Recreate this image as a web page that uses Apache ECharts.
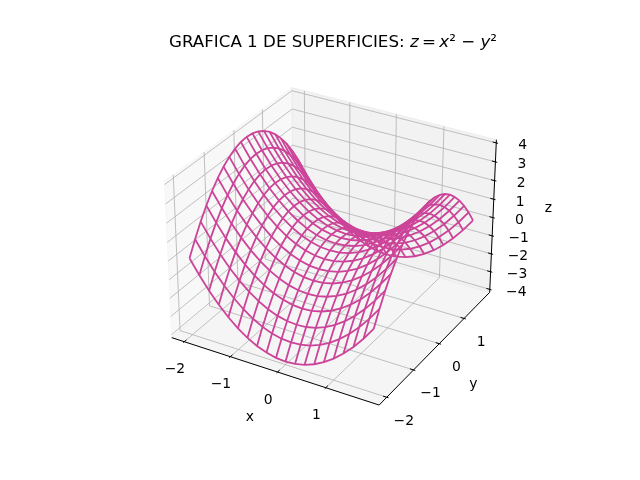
<!DOCTYPE html>
<html>
<head>
<meta charset="utf-8">
<script src="https://cdn.jsdelivr.net/npm/echarts@6/dist/echarts.min.js"></script>
<style>
  html, body { margin: 0; padding: 0; background: #fff; }
  #chart { width: 640px; height: 480px; }
</style>
</head>
<body>
<div id="chart"></div>
<script>
// grid of the surface (x along each row, one row per y value)
const xValues = [-2, -1.8, -1.6, -1.4, -1.2, -1, -0.8, -0.6, -0.4, -0.2, 0, 0.2, 0.4, 0.6, 0.8, 1, 1.2, 1.4, 1.6, 1.8];
const yValues = [-2, -1.8, -1.6, -1.4, -1.2, -1, -0.8, -0.6, -0.4, -0.2, 0, 0.2, 0.4, 0.6, 0.8, 1, 1.2, 1.4, 1.6, 1.8];
// zRows[j][i] = height at (xValues[i], yValues[j])
const zRows = [
  [0, -0.76, -1.44, -2.04, -2.56, -3, -3.36, -3.64, -3.84, -3.96, -4, -3.96, -3.84, -3.64, -3.36, -3, -2.56, -2.04, -1.44, -0.76],
  [0.76, 0, -0.68, -1.28, -1.8, -2.24, -2.6, -2.88, -3.08, -3.2, -3.24, -3.2, -3.08, -2.88, -2.6, -2.24, -1.8, -1.28, -0.68, 0],
  [1.44, 0.68, 0, -0.6, -1.12, -1.56, -1.92, -2.2, -2.4, -2.52, -2.56, -2.52, -2.4, -2.2, -1.92, -1.56, -1.12, -0.6, 0, 0.68],
  [2.04, 1.28, 0.6, 0, -0.52, -0.96, -1.32, -1.6, -1.8, -1.92, -1.96, -1.92, -1.8, -1.6, -1.32, -0.96, -0.52, 0, 0.6, 1.28],
  [2.56, 1.8, 1.12, 0.52, 0, -0.44, -0.8, -1.08, -1.28, -1.4, -1.44, -1.4, -1.28, -1.08, -0.8, -0.44, 0, 0.52, 1.12, 1.8],
  [3, 2.24, 1.56, 0.96, 0.44, 0, -0.36, -0.64, -0.84, -0.96, -1, -0.96, -0.84, -0.64, -0.36, 0, 0.44, 0.96, 1.56, 2.24],
  [3.36, 2.6, 1.92, 1.32, 0.8, 0.36, 0, -0.28, -0.48, -0.6, -0.64, -0.6, -0.48, -0.28, 0, 0.36, 0.8, 1.32, 1.92, 2.6],
  [3.64, 2.88, 2.2, 1.6, 1.08, 0.64, 0.28, 0, -0.2, -0.32, -0.36, -0.32, -0.2, 0, 0.28, 0.64, 1.08, 1.6, 2.2, 2.88],
  [3.84, 3.08, 2.4, 1.8, 1.28, 0.84, 0.48, 0.2, 0, -0.12, -0.16, -0.12, 0, 0.2, 0.48, 0.84, 1.28, 1.8, 2.4, 3.08],
  [3.96, 3.2, 2.52, 1.92, 1.4, 0.96, 0.6, 0.32, 0.12, 0, -0.04, 0, 0.12, 0.32, 0.6, 0.96, 1.4, 1.92, 2.52, 3.2],
  [4, 3.24, 2.56, 1.96, 1.44, 1, 0.64, 0.36, 0.16, 0.04, 0, 0.04, 0.16, 0.36, 0.64, 1, 1.44, 1.96, 2.56, 3.24],
  [3.96, 3.2, 2.52, 1.92, 1.4, 0.96, 0.6, 0.32, 0.12, 0, -0.04, 0, 0.12, 0.32, 0.6, 0.96, 1.4, 1.92, 2.52, 3.2],
  [3.84, 3.08, 2.4, 1.8, 1.28, 0.84, 0.48, 0.2, 0, -0.12, -0.16, -0.12, 0, 0.2, 0.48, 0.84, 1.28, 1.8, 2.4, 3.08],
  [3.64, 2.88, 2.2, 1.6, 1.08, 0.64, 0.28, 0, -0.2, -0.32, -0.36, -0.32, -0.2, 0, 0.28, 0.64, 1.08, 1.6, 2.2, 2.88],
  [3.36, 2.6, 1.92, 1.32, 0.8, 0.36, 0, -0.28, -0.48, -0.6, -0.64, -0.6, -0.48, -0.28, 0, 0.36, 0.8, 1.32, 1.92, 2.6],
  [3, 2.24, 1.56, 0.96, 0.44, 0, -0.36, -0.64, -0.84, -0.96, -1, -0.96, -0.84, -0.64, -0.36, 0, 0.44, 0.96, 1.56, 2.24],
  [2.56, 1.8, 1.12, 0.52, 0, -0.44, -0.8, -1.08, -1.28, -1.4, -1.44, -1.4, -1.28, -1.08, -0.8, -0.44, 0, 0.52, 1.12, 1.8],
  [2.04, 1.28, 0.6, 0, -0.52, -0.96, -1.32, -1.6, -1.8, -1.92, -1.96, -1.92, -1.8, -1.6, -1.32, -0.96, -0.52, 0, 0.6, 1.28],
  [1.44, 0.68, 0, -0.6, -1.12, -1.56, -1.92, -2.2, -2.4, -2.52, -2.56, -2.52, -2.4, -2.2, -1.92, -1.56, -1.12, -0.6, 0, 0.68],
  [0.76, 0, -0.68, -1.28, -1.8, -2.24, -2.6, -2.88, -3.08, -3.2, -3.24, -3.2, -3.08, -2.88, -2.6, -2.24, -1.8, -1.28, -0.68, 0]
];

const xTicks = [-2, -1, 0, 1];
const yTicks = [-2, -1, 0, 1];
const zTicks = [-4, -3, -2, -1, 0, 1, 2, 3, 4];
const xLim = [-2.19, 1.99];
const yLim = [-2.19, 1.99];
const zLim = [-4, 4];

const WIRE_COLOR = "#cc4499";
const FONT = "DejaVu Sans";

// camera like a default 3d axes: elev 30, azim -60, perspective
const ELEV = 30, AZIM = -60, DIST = 10;
const ASPECT = [8 / 7, 8 / 7, 6 / 7];
const SCALE = 2080, CX = 333.5, CY = 239;

const pad = (lim) => { const d = (lim[1] - lim[0]) / 48; return [lim[0] - d, lim[1] + d]; };
const XB = pad(xLim), YB = pad(yLim), ZB = pad(zLim);

const el = ELEV * Math.PI / 180, az = AZIM * Math.PI / 180;
const W = [Math.cos(el) * Math.cos(az), Math.cos(el) * Math.sin(az), Math.sin(el)];
const cross = (a, b) => [a[1] * b[2] - a[2] * b[1], a[2] * b[0] - a[0] * b[2], a[0] * b[1] - a[1] * b[0]];
const dot = (a, b) => a[0] * b[0] + a[1] * b[1] + a[2] * b[2];
let U = cross([0, 0, 1], W);
const un = Math.sqrt(dot(U, U));
U = U.map(v => v / un);
const V = cross(W, U);

function project(p) {
  const q = [
    (p[0] - XB[0]) / (XB[1] - XB[0]) * ASPECT[0] - ASPECT[0] / 2,
    (p[1] - YB[0]) / (YB[1] - YB[0]) * ASPECT[1] - ASPECT[1] / 2,
    (p[2] - ZB[0]) / (ZB[1] - ZB[0]) * ASPECT[2] - ASPECT[2] / 2
  ];
  const depth = DIST - dot(W, q);
  return [dot(U, q) / depth, dot(V, q) / depth];
}

// panes: x = min (left), y = max (back), z = min (floor)
const panes = [
  { pts: [[XB[0], YB[0], ZB[0]], [XB[0], YB[1], ZB[0]], [XB[0], YB[1], ZB[1]], [XB[0], YB[0], ZB[1]]], color: "rgba(242,242,242,0.5)" },
  { pts: [[XB[0], YB[1], ZB[0]], [XB[1], YB[1], ZB[0]], [XB[1], YB[1], ZB[1]], [XB[0], YB[1], ZB[1]]], color: "rgba(230,230,230,0.5)" },
  { pts: [[XB[0], YB[0], ZB[0]], [XB[1], YB[0], ZB[0]], [XB[1], YB[1], ZB[0]], [XB[0], YB[1], ZB[0]]], color: "rgba(236,236,236,0.5)" }
];

const gridLines = [];
xTicks.forEach(t => gridLines.push([[t, YB[0], ZB[0]], [t, YB[1], ZB[0]], [t, YB[1], ZB[1]]]));
yTicks.forEach(t => gridLines.push([[XB[1], t, ZB[0]], [XB[0], t, ZB[0]], [XB[0], t, ZB[1]]]));
zTicks.forEach(t => gridLines.push([[XB[0], YB[0], t], [XB[0], YB[1], t], [XB[1], YB[1], t]]));

const axisLines = [
  [[XB[0], YB[0], ZB[0]], [XB[1], YB[0], ZB[0]]],
  [[XB[1], YB[0], ZB[0]], [XB[1], YB[1], ZB[0]]],
  [[XB[1], YB[1], ZB[0]], [XB[1], YB[1], ZB[1]]]
];

const dY = (YB[1] - YB[0]) / 12, dX = (XB[1] - XB[0]) / 12;
const tickLines = [];
xTicks.forEach(t => tickLines.push([[t, YB[0] + 0.2 * dY, ZB[0]], [t, YB[0] - 0.1 * dY, ZB[0]]]));
yTicks.forEach(t => tickLines.push([[XB[1] - 0.2 * dX, t, ZB[0]], [XB[1] + 0.1 * dX, t, ZB[0]]]));
zTicks.forEach(t => tickLines.push([[XB[1] - 0.2 * dX, YB[1], t], [XB[1] + 0.1 * dX, YB[1], t]]));

const fmt = v => (v < 0 ? "\u2212" + Math.abs(v) : String(v));
const labels = [];
xTicks.forEach(t => labels.push({ p: [t, YB[0], ZB[0]], text: fmt(t), dx: -9.4, dy: 27.9 }));
yTicks.forEach(t => labels.push({ p: [XB[1], t, ZB[0]], text: fmt(t), dx: 17, dy: 23.7 }));
zTicks.forEach(t => labels.push({ p: [XB[1], YB[1], t], text: fmt(t), dx: 26.5, dy: 2.7 }));
labels.push({ p: [(XB[0] + XB[1]) / 2, YB[0], ZB[0]], text: "x", dx: -22.8, dy: 46.8 });
labels.push({ p: [XB[1], (YB[0] + YB[1]) / 2, ZB[0]], text: "y", dx: 36.5, dy: 37.7 });
labels.push({ p: [XB[1], YB[1], (ZB[0] + ZB[1]) / 2], text: "z", dx: 55.3, dy: -9.4 });

// wireframe: one polyline per row (constant y) and per column (constant x)
const wires = [];
yValues.forEach((y, j) => wires.push(xValues.map((x, i) => [x, y, zRows[j][i]])));
xValues.forEach((x, i) => wires.push(yValues.map((y, j) => [x, y, zRows[j][i]])));

function polySeries(list, style) {
  return {
    type: "custom",
    silent: true,
    data: list.map((_, k) => [k]),
    renderItem: (params, api) => ({
      type: "polyline",
      shape: { points: list[params.dataIndex].map(p => api.coord(project(p))) },
      style: Object.assign({ fill: "none" }, style)
    })
  };
}

const chart = echarts.init(document.getElementById("chart"));
chart.setOption({
  animation: false,
  title: {
    text: "{n|GRAFICA 1 DE SUPERFICIES: }{i|z}{n|\u2009=\u2009}{i|x}{n|\u00b2 \u2212 }{i|y}{n|\u00b2}",
    left: 328,
    top: 29,
    textAlign: "center",
    textStyle: {
      fontWeight: "normal",
      rich: {
        n: { fontFamily: FONT, fontSize: 16.7, fontWeight: "normal", color: "#000" },
        i: { fontFamily: FONT, fontSize: 16.7, fontWeight: "normal", fontStyle: "italic", color: "#000" }
      }
    }
  },
  grid: { left: 0, right: 0, top: 0, bottom: 0 },
  xAxis: { type: "value", min: -CX / SCALE, max: (640 - CX) / SCALE, show: false },
  yAxis: { type: "value", min: -(480 - CY) / SCALE, max: CY / SCALE, show: false },
  series: [
    {
      type: "custom",
      silent: true,
      data: panes.map((_, k) => [k]),
      renderItem: (params, api) => {
        const pane = panes[params.dataIndex];
        return {
          type: "polygon",
          shape: { points: pane.pts.map(p => api.coord(project(p))) },
          style: { fill: pane.color, stroke: pane.color, lineWidth: 1 }
        };
      }
    },
    polySeries(gridLines, { stroke: "#b0b0b0", lineWidth: 0.8 }),
    polySeries(axisLines, { stroke: "#000", lineWidth: 1 }),
    polySeries(tickLines, { stroke: "#000", lineWidth: 1 }),
    {
      type: "custom",
      silent: true,
      data: labels.map((_, k) => [k]),
      renderItem: (params, api) => {
        const lb = labels[params.dataIndex];
        const c = api.coord(project(lb.p));
        return {
          type: "text",
          x: c[0] + lb.dx,
          y: c[1] + lb.dy,
          style: {
            text: lb.text, fill: "#000", fontSize: 13.9, fontFamily: FONT,
            align: "center", verticalAlign: "middle",
            textAlign: "center", textVerticalAlign: "middle"
          }
        };
      }
    },
    polySeries(wires, { stroke: WIRE_COLOR, lineWidth: 1.8 })
  ]
});
</script>
</body>
</html>
